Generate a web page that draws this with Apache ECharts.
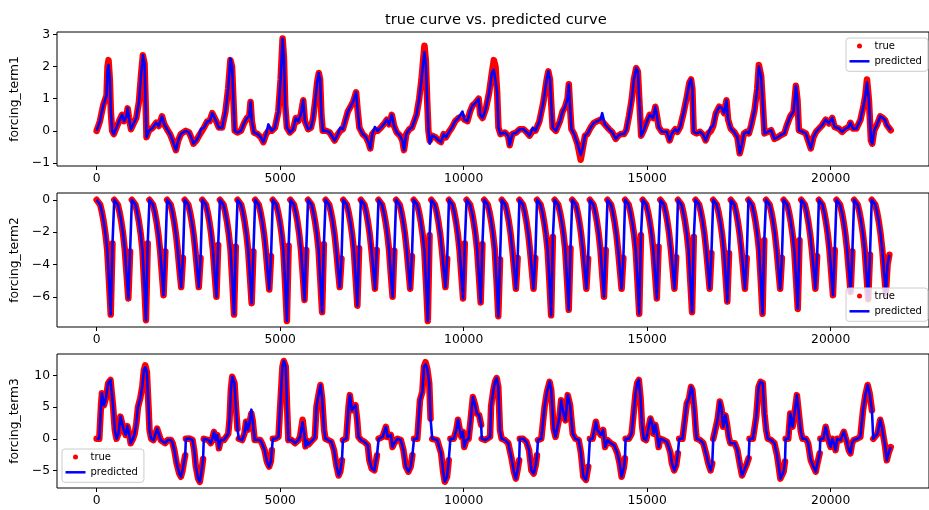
<!DOCTYPE html>
<html>
<head>
<meta charset="utf-8">
<script src="https://cdn.jsdelivr.net/npm/echarts@6/dist/echarts.min.js"></script>
<style>
html, body { margin: 0; padding: 0; background: #fff; }
#chart { width: 929px; height: 510px; }
</style>
</head>
<body>
<div id="chart"></div>
<script>
// ---- text and ticks ----
const titleText = 'true curve vs. predicted curve';
const axisNames = ['forcing_term1', 'forcing_term2', 'forcing_term3'];
const xTicks = [0, 5000, 10000, 15000, 20000];
const yTicks1 = [-1, 0, 1, 2, 3];
const yTicks2 = [-6, -4, -2, 0];
const yTicks3 = [-5, 0, 5, 10];

// ---- forcing_term1: sample index and values ----
const term1X = [
  0,90,180,225,270,297,324,360,387,423,
  468,540,630,693,747,810,846,882,936,990,
  1080,1152,1215,1260,1305,1332,1359,1422,1530,1620,
  1692,1782,1845,1917,1998,2070,2160,2223,2295,2358,
  2430,2520,2592,2637,2718,2790,2844,2925,3015,3078,
  3150,3204,3258,3330,3420,3510,3582,3645,3690,3726,
  3762,3834,3933,4023,4095,4158,4194,4230,4284,4383,
  4473,4545,4617,4680,4770,4860,4950,5013,5067,5103,
  5139,5184,5265,5355,5427,5490,5562,5630,5675,5765,
  5840,5900,5963,6008,6053,6089,6125,6161,6260,6350,
  6395,6485,6575,6638,6710,6845,6917,6953,6989,7025,
  7070,7115,7160,7250,7340,7403,7457,7511,7583,7655,
  7745,7853,7907,7970,8042,8105,8177,8267,8330,8375,
  8438,8519,8591,8645,8717,8789,8852,8897,8933,8969,
  9005,9041,9077,9140,9230,9320,9383,9455,9518,9590,
  9680,9770,9860,9905,9968,10022,10103,10175,10247,10310,
  10355,10409,10454,10517,10607,10697,10769,10823,10868,10913,
  10949,11003,11120,11210,11255,11327,11435,11525,11633,11723,
  11795,11885,11957,12065,12173,12263,12308,12353,12389,12425,
  12515,12623,12695,12767,12830,12866,12902,12938,13010,13100,
  13190,13253,13307,13370,13460,13550,13640,13730,13775,13847,
  13963,14053,14143,14215,14278,14369,14432,14504,14576,14639,
  14702,14747,14801,14837,14909,14981,15071,15116,15161,15224,
  15269,15314,15405,15540,15612,15675,15765,15828,15900,15990,
  16080,16152,16197,16233,16269,16350,16441,16530,16594,16666,
  16738,16801,16873,16963,17044,17098,17161,17206,17278,17369,
  17459,17522,17567,17639,17702,17774,17837,17927,17999,18044,
  18107,18161,18197,18287,18378,18468,18558,18648,18738,18810,
  18900,18990,19053,19098,19134,19233,19324,19387,19459,19531,
  19603,19684,19774,19864,19954,20044,20107,20224,20314,20405,
  20495,20540,20612,20702,20810,20900,20945,20990,21044,21098,
  21134,21188,21260,21350,21423,21485,21530,21638
];
const term1True = [
  0,0.3,0.8,0.95,1.1,2.0,2.2,1.6,0.6,0.0,
  -0.1,0.1,0.35,0.5,0.3,0.45,0.7,0.4,0.05,0.0,
  0.4,0.9,1.8,2.35,2.1,1.0,-0.2,0.0,0.1,0.25,
  0.15,0.45,0.2,0.05,-0.1,-0.3,-0.6,-0.3,-0.1,-0.05,
  0.0,-0.05,-0.25,-0.4,-0.3,-0.15,-0.05,0.1,0.3,0.3,
  0.55,0.6,0.3,0.1,0.1,0.6,1.3,2.2,2.0,1.0,
  0.0,-0.05,0.0,0.25,0.4,0.45,0.9,0.3,-0.05,-0.1,
  -0.2,-0.35,-0.1,0.0,0.0,0.1,0.6,1.6,2.87,2.3,
  0.8,0.1,-0.05,0.05,0.4,0.3,0.5,0.95,0.3,0.05,
  0.1,0.4,1.0,1.5,1.8,1.6,0.5,0.0,0.0,-0.05,
  -0.1,-0.3,-0.1,0.0,0.05,0.6,0.75,0.8,0.9,0.85,
  1.2,0.6,0.1,-0.1,-0.2,-0.35,-0.55,-0.1,0.0,0.0,
  0.1,0.25,0.35,0.2,0.5,0.15,-0.05,-0.15,-0.3,-0.6,
  -0.1,0.05,0.1,0.1,0.5,1.0,1.6,2.2,2.65,2.2,
  1.0,0.0,-0.3,-0.15,-0.2,-0.3,-0.35,-0.1,-0.2,-0.05,
  0.1,0.3,0.4,0.35,0.45,0.35,0.3,0.6,0.8,0.85,
  0.8,1.0,0.5,0.4,0.7,1.2,1.8,2.2,2.0,1.2,
  0.1,-0.1,-0.05,-0.15,-0.45,-0.1,-0.05,0.05,0.05,-0.05,
  -0.15,0.0,0.0,0.3,0.9,1.6,1.85,1.6,0.8,0.1,
  0.0,0.3,0.6,0.75,1.0,1.45,0.7,0.05,-0.1,-0.4,
  -0.9,-0.5,-0.15,-0.1,0.1,0.25,0.3,0.35,0.4,0.2,
  0.05,-0.05,-0.25,-0.15,-0.1,-0.1,0.02,0.45,0.95,1.6,
  1.95,1.85,0.65,-0.15,0.02,0.25,0.5,0.55,0.4,0.75,
  0.45,0.12,-0.03,-0.03,-0.3,-0.08,0.05,-0.03,0.12,0.55,
  1.05,1.5,1.6,1.3,-0.03,-0.08,-0.03,-0.13,-0.3,-0.08,
  0.0,0.15,0.55,0.75,0.7,0.55,0.95,0.35,0.07,-0.03,
  -0.2,-0.7,-0.5,-0.08,-0.03,-0.08,0.18,0.65,1.3,2.05,
  1.7,0.65,-0.08,-0.03,0.02,-0.25,-0.2,-0.13,-0.08,0.18,
  0.45,0.6,1.4,0.95,0.02,-0.03,-0.08,-0.3,-0.55,-0.2,
  -0.03,0.07,0.18,0.35,0.23,0.4,0.12,0.07,-0.03,0.07,
  0.12,0.25,0.07,0.07,0.33,0.8,1.1,1.6,0.95,-0.3,
  -0.4,0.02,0.18,0.45,0.4,0.33,0.18,0.02
];
const term1Pred = [
  0,0.3,0.8,0.95,1.1,1.9,2.05,1.6,0.6,0.0,
  -0.1,0.1,0.35,0.5,0.3,0.45,0.7,0.4,0.05,0.0,
  0.4,0.9,1.8,2.35,2.1,1.0,-0.2,0.0,0.1,0.25,
  0.15,0.45,0.2,0.05,-0.1,-0.3,-0.6,-0.3,-0.1,-0.05,
  0.0,-0.05,-0.25,-0.4,-0.3,-0.15,0.05,0.1,0.3,0.3,
  0.55,0.6,0.3,0.1,0.1,0.6,1.3,2.25,2.0,1.0,
  0.0,-0.05,0.0,0.25,0.4,0.45,0.9,0.3,-0.05,-0.1,
  -0.2,-0.35,-0.1,0.2,0.0,0.1,0.6,1.6,2.87,2.3,
  0.8,0.1,-0.05,0.05,0.4,0.3,0.5,0.95,0.3,0.05,
  0.1,0.4,1.0,1.5,1.8,1.6,0.5,0.0,0.0,-0.05,
  -0.1,-0.3,-0.1,0.1,0.05,0.6,0.75,0.8,0.9,0.85,
  1.2,0.6,0.1,-0.1,-0.2,-0.35,-0.55,-0.1,0.12,0.0,
  0.1,0.25,0.35,0.2,0.5,0.15,-0.05,-0.15,-0.3,-0.6,
  -0.1,0.05,0.1,0.1,0.5,1.0,1.6,2.1,2.45,2.1,
  1.0,0.0,-0.4,-0.15,-0.2,-0.3,-0.35,-0.1,-0.2,-0.05,
  0.1,0.3,0.4,0.35,0.6,0.35,0.3,0.6,0.8,0.85,
  0.8,1.0,0.5,0.4,0.7,1.2,1.8,1.9,1.85,1.2,
  0.1,-0.1,-0.05,-0.15,-0.45,-0.1,-0.05,0.05,0.05,-0.05,
  -0.15,0.1,0.0,0.3,0.9,1.6,1.85,1.6,0.8,0.1,
  0.0,0.3,0.6,0.75,1.0,1.45,0.7,0.05,-0.1,-0.4,
  -0.75,-0.5,-0.15,-0.1,0.1,0.25,0.3,0.35,0.55,0.2,
  0.05,-0.05,-0.25,-0.15,-0.1,-0.1,0.02,0.45,0.95,1.6,
  1.95,1.85,0.65,-0.15,0.02,0.25,0.5,0.55,0.4,0.75,
  0.45,0.12,-0.03,-0.03,-0.3,-0.08,0.05,-0.03,0.12,0.55,
  1.05,1.5,1.6,1.3,-0.03,-0.08,-0.03,-0.13,-0.3,-0.08,
  0.1,0.15,0.55,0.75,0.7,0.55,0.95,0.35,0.07,-0.03,
  -0.2,-0.7,-0.5,-0.08,-0.03,-0.08,0.18,0.65,1.3,2.0,
  1.7,0.65,-0.08,-0.03,0.02,-0.25,-0.2,-0.13,-0.08,0.18,
  0.45,0.6,1.4,0.95,0.02,-0.03,-0.08,-0.3,-0.55,-0.2,
  -0.03,0.07,0.18,0.35,0.23,0.4,0.12,0.07,-0.03,0.07,
  0.12,0.25,0.07,0.07,0.33,0.8,1.1,1.5,0.95,-0.3,
  -0.4,0.02,0.18,0.45,0.4,0.33,0.18,0.02
];
const term1Gaps = [];

// ---- forcing_term2: one row per cycle, sampled every term2Step indices ----
const term2Step = 48;
const term2Cycles = [
  [0,-0.05,-0.3,-0.75,-1.35,-2.1,-3.1,-5.0,-7.1,-2.7],
  [0,-0.05,-0.3,-0.75,-1.35,-2.1,-3.1,-4.6,-6.1,-3.2],
  [0,-0.05,-0.3,-0.75,-1.35,-2.1,-3.1,-5.2,-7.45,-2.7],
  [0,-0.05,-0.3,-0.75,-1.35,-2.1,-3.1,-4.5,-5.9,-3.2],
  [0,-0.05,-0.3,-0.75,-1.35,-2.1,-3.1,-4.3,-5.4,-3.6],
  [0,-0.05,-0.3,-0.75,-1.35,-2.1,-3.1,-4.3,-5.4,-3.6],
  [0,-0.05,-0.3,-0.75,-1.35,-2.1,-3.1,-4.6,-6.0,-2.8],
  [0,-0.05,-0.3,-0.75,-1.35,-2.1,-3.1,-5.0,-7.1,-2.9],
  [0,-0.05,-0.3,-0.75,-1.35,-2.1,-3.1,-4.7,-6.4,-3.2],
  [0,-0.05,-0.3,-0.75,-1.35,-2.1,-3.1,-4.4,-5.55,-3.5],
  [0,-0.05,-0.3,-0.75,-1.35,-2.1,-3.1,-5.2,-7.5,-2.85],
  [0,-0.05,-0.3,-0.75,-1.35,-2.1,-3.1,-4.6,-6.2,-3.1],
  [0,-0.05,-0.3,-0.75,-1.35,-2.1,-3.1,-5.0,-6.95,-2.75],
  [0,-0.05,-0.3,-0.75,-1.35,-2.1,-3.1,-4.3,-5.4,-3.65],
  [0,-0.05,-0.3,-0.75,-1.35,-2.1,-3.1,-4.8,-6.55,-3.0],
  [0,-0.05,-0.3,-0.75,-1.35,-2.1,-3.1,-4.3,-5.5,-3.1],
  [0,-0.05,-0.3,-0.75,-1.35,-2.1,-3.1,-4.6,-6.0,-3.15],
  [0,-0.05,-0.3,-0.75,-1.35,-2.1,-3.1,-4.3,-5.5,-3.5],
  [0,-0.05,-0.3,-0.75,-1.35,-2.1,-3.1,-5.2,-7.5,-2.2],
  [0,-0.05,-0.3,-0.75,-1.35,-2.1,-3.1,-4.3,-5.4,-3.65],
  [0,-0.05,-0.3,-0.75,-1.35,-2.1,-3.1,-4.6,-6.1,-2.7],
  [0,-0.05,-0.3,-0.75,-1.35,-2.1,-3.1,-4.7,-6.35,-2.75],
  [0,-0.05,-0.3,-0.75,-1.35,-2.1,-3.1,-5.0,-7.2,-3.7],
  [0,-0.05,-0.3,-0.75,-1.35,-2.1,-3.1,-4.3,-5.5,-3.6],
  [0,-0.05,-0.3,-0.75,-1.35,-2.1,-3.1,-4.3,-5.5,-3.6],
  [0,-0.05,-0.3,-0.75,-1.35,-2.1,-3.1,-5.0,-7.15,-2.3],
  [0,-0.05,-0.3,-0.75,-1.35,-2.1,-3.1,-4.9,-6.8,-3.0],
  [0,-0.05,-0.3,-0.75,-1.35,-2.1,-3.1,-4.3,-5.5,-3.65],
  [0,-0.05,-0.3,-0.75,-1.35,-2.1,-3.1,-4.6,-6.0,-3.1],
  [0,-0.05,-0.3,-0.75,-1.35,-2.1,-3.1,-4.3,-5.5,-3.6],
  [0,-0.05,-0.3,-0.75,-1.35,-2.1,-3.1,-5.0,-7.05,-2.2],
  [0,-0.05,-0.3,-0.75,-1.35,-2.1,-3.1,-4.6,-6.1,-2.9],
  [0,-0.05,-0.3,-0.75,-1.35,-2.1,-3.1,-4.3,-5.5,-3.55],
  [0,-0.05,-0.3,-0.75,-1.35,-2.1,-3.1,-5.0,-6.95,-2.3],
  [0,-0.05,-0.3,-0.75,-1.35,-2.1,-3.1,-4.3,-5.5,-3.3],
  [0,-0.05,-0.3,-0.75,-1.35,-2.1,-3.1,-4.7,-6.3,-3.3],
  [0,-0.05,-0.3,-0.75,-1.35,-2.1,-3.1,-4.3,-5.5,-3.6],
  [0,-0.05,-0.3,-0.75,-1.35,-2.1,-3.1,-5.0,-7.05,-2.5],
  [0,-0.05,-0.3,-0.75,-1.35,-2.1,-3.1,-4.3,-5.5,-3.6],
  [0,-0.05,-0.3,-0.75,-1.35,-2.1,-3.1,-4.9,-6.75,-2.5],
  [0,-0.05,-0.3,-0.75,-1.35,-2.1,-3.1,-4.3,-5.5,-3.5],
  [0,-0.05,-0.3,-0.75,-1.35,-2.1,-3.1,-4.5,-5.9,-3.1],
  [0,-0.05,-0.3,-0.75,-1.35,-2.1,-3.1,-4.4,-5.7,-3.2],
  [0,-0.05,-0.3,-0.75,-1.35,-2.1,-3.1,-4.6,-6.15,-3.4],
  [0,-0.05,-0.3,-0.75,-1.35,-2.1,-3.1,-4.5,-5.8,-4.0,-3.4]
];

// ---- forcing_term3: sample index and values ----
const term3X = [
  0,72,117,144,198,252,315,378,414,450,
  495,541,595,649,694,739,793,838,901,928,
  991,1036,1081,1126,1189,1243,1288,1324,1369,1414,
  1441,1486,1550,1604,1649,1694,1748,1802,1865,1937,
  2027,2072,2117,2180,2252,2297,2342,2387,2414,2432,
  2523,2613,2658,2703,2766,2811,2856,2901,2919,2973,
  3045,3108,3153,3198,3243,3288,3333,3378,3468,3513,
  3586,3621,3657,3694,3721,3757,3802,3838,3874,3964,
  4027,4072,4117,4162,4216,4252,4306,4369,4459,4504,
  4576,4639,4702,4747,4774,4801,4865,4955,5000,5063,
  5099,5153,5189,5225,5315,5406,5496,5541,5613,5658,
  5690,5730,5770,5850,5945,5990,6054,6099,6144,6198,
  6234,6306,6396,6468,6531,6594,6639,6684,6711,6801,
  6864,6900,6954,6999,7054,7099,7135,7207,7297,7387,
  7432,7495,7567,7639,7684,7792,7882,7927,8018,8063,
  8108,8198,8288,8360,8423,8495,8558,8603,8648,8738,
  8810,8874,8918,8963,9008,9063,9099,9144,9279,9387,
  9441,9486,9549,9594,9639,9729,9801,9846,9891,9936,
  9981,10017,10072,10135,10180,10252,10315,10360,10423,10477,
  10495,10585,10720,10747,10810,10855,10900,10945,10990,11035,
  11125,11216,11306,11369,11423,11468,11513,11531,11621,11711,
  11783,11846,11909,11963,11999,12026,12116,12206,12270,12342,
  12387,12450,12504,12612,12657,12702,12774,12837,12900,12972,
  13045,13135,13198,13261,13333,13396,13441,13513,13603,13648,
  13738,13801,13855,13919,14008,14098,14188,14251,14305,14368,
  14395,14414,14504,14576,14639,14684,14729,14774,14819,14864,
  14909,14972,15044,15089,15134,15179,15224,15269,15314,15360,
  15450,15540,15585,15630,15675,15738,15792,15837,15873,15963,
  16080,16143,16197,16233,16287,16324,16351,16441,16531,16603,
  16666,16729,16774,16801,16846,16918,16981,17026,17071,17134,
  17179,17224,17269,17323,17387,17459,17522,17585,17639,17702,
  17765,17790,17882,17972,18035,18089,18152,18197,18242,18287,
  18378,18468,18540,18585,18630,18666,18720,18756,18774,18846,
  18900,18963,19026,19080,19143,19188,19233,19324,19387,19459,
  19531,19594,19639,19702,19720,19801,19864,19909,19954,19999,
  20044,20089,20134,20179,20269,20360,20405,20450,20495,20540,
  20585,20630,20720,20810,20882,20945,21008,21062,21125,21161,
  21215,21278,21350,21396,21441,21486,21531,21576,21638
];
const term3True = [
  0,0,5.0,7.2,5.3,6.4,8.8,9.3,9.3,5.0,
  1.4,0.0,0.8,3.5,3.7,1.4,0.6,2.0,0.3,-0.7,
  0.0,0.8,2.4,5.0,6.4,8.2,10.9,11.6,10.6,5.0,
  1.4,0.0,-0.2,0.0,1.6,1.4,-0.2,-0.2,-0.7,-0.2,
  -0.2,-0.7,-1.8,-3.9,-5.5,-6.0,-5.0,-3.4,-2.6,0.0,
  0.05,-0.2,-1.8,-4.4,-6.3,-6.8,-5.2,-3.2,0.0,0.0,
  -0.2,-0.7,0.05,1.1,-0.2,0.6,-1.5,-0.2,-0.2,-0.2,
  0.8,3.0,7.7,9.8,10.1,8.8,4.5,1.6,0.0,-0.2,
  0.8,2.7,1.4,2.4,4.0,2.9,-0.2,-0.2,-0.2,-0.7,
  -1.8,-3.6,-4.4,-3.6,-1.8,0.0,0.0,0.3,5.0,11.4,
  12.3,11.4,5.0,-0.2,-0.2,-0.7,-0.2,0.3,3.0,0.8,
  -1.2,-0.3,-0.9,-0.4,0.2,5.1,7.2,8.5,6.4,1.4,
  0.0,-0.2,-0.5,-1.8,-4.2,-5.8,-5.2,-3.4,-0.2,0.0,
  5.1,6.9,4.5,4.2,5.3,3.0,0.3,-0.2,-0.5,-1.0,
  -3.4,-4.7,-5.0,-2.6,0.0,0.3,1.9,0.3,0.6,-1.3,
  -0.7,0.0,-0.2,-1.8,-4.4,-5.2,-4.4,-2.6,0.0,0.0,
  6.1,7.4,11.4,12.1,11.1,8.8,3.2,0.0,-0.2,-2.3,
  -5.2,-6.8,-6.0,-3.4,0.0,0.0,1.4,3.0,1.6,0.3,
  1.1,-1.3,-0.2,0.0,2.4,6.6,5.3,4.0,3.7,2.2,
  0.0,-0.2,0.3,5.1,7.7,9.0,9.6,8.2,1.4,0.0,
  -0.2,-0.7,-3.1,-5.2,-6.3,-5.0,-3.4,0.0,0.0,-0.5,
  -1.8,-5.0,-5.5,-4.2,-2.6,-0.2,0.0,5.1,7.4,9.0,
  7.7,1.6,0.3,3.5,6.1,4.5,2.9,6.9,5.3,0.8,
  0.0,-0.2,-2.3,-6.0,-6.5,-4.4,0.0,0.0,2.7,1.4,
  0.6,1.4,-1.3,-0.2,-0.7,-1.0,-2.3,-3.9,-6.0,-4.5,
  -3.1,0.0,0.0,0.8,4.5,7.2,8.8,9.3,6.6,1.9,
  0.0,-0.2,1.9,3.2,2.4,0.8,2.2,0.8,-1.3,0.0,
  -0.2,-0.5,-0.2,-2.1,-3.9,-5.0,-4.2,-2.3,0.0,0.0,
  5.6,6.4,8.2,7.7,4.5,1.4,0.0,-0.2,-0.7,-2.3,
  -3.9,-5.0,-3.9,0.0,0.0,3.0,5.9,4.8,1.9,3.7,
  2.2,0.3,-0.7,-0.5,-0.7,-1.8,-3.9,-5.8,-6.0,-4.2,
  -3.1,0.0,0.0,3.5,8.2,9.0,8.8,4.0,1.4,0.0,
  -0.2,-0.7,-2.6,-4.4,-6.3,-6.5,-5.2,-3.6,0.0,0.0,
  4.0,1.9,4.5,6.9,3.5,1.1,0.0,0.0,-0.7,-3.4,
  -4.4,-5.2,-3.9,-2.3,0.0,0.0,1.9,2.1,-0.5,-1.3,
  0.0,-0.7,-1.8,0.0,-0.2,1.1,1.1,-0.7,-1.8,-2.3,
  -0.7,-0.2,0.0,0.3,4.5,6.9,8.5,7.2,4.5,0.0,
  0.0,0.8,3.0,1.9,0.3,-1.3,-3.4,-2.3,-1.3
];
const term3Pred = [
  0,0,5.0,7.2,5.3,6.4,8.8,9.3,9.3,5.0,
  1.4,0.0,0.8,3.5,3.7,1.4,0.6,2.0,0.3,-0.7,
  0.0,0.8,2.4,5.0,6.4,8.2,10.9,11.3,10.6,5.0,
  1.4,0.0,-0.2,0.0,1.6,1.4,-0.2,-0.2,-0.7,-0.2,
  -0.2,-0.7,-1.8,-3.9,-5.5,-6.0,-5.0,-3.4,-2.6,0.0,
  0.05,-0.2,-1.8,-4.4,-6.3,-6.8,-5.2,-3.2,0.0,0.0,
  -0.2,-0.7,0.05,1.1,-0.2,0.6,-1.5,-0.2,-0.2,-0.2,
  0.8,3.0,7.7,9.8,10.1,8.8,4.5,1.6,0.0,-0.2,
  0.8,2.7,1.4,2.4,4.6,2.9,-0.2,-0.2,-0.2,-0.7,
  -1.8,-3.6,-4.4,-3.6,-1.8,0.0,0.0,0.3,5.0,11.4,
  12.3,11.4,5.0,-0.2,-0.2,-0.7,-0.2,0.3,2.6,0.8,
  -1.2,-0.3,-0.9,-0.4,0.2,5.1,7.2,8.5,6.4,1.4,
  0.0,-0.2,-0.5,-1.8,-4.2,-5.8,-5.2,-3.4,-0.2,0.0,
  5.1,6.9,4.5,4.2,5.3,3.0,0.3,-0.2,-0.5,-1.0,
  -3.4,-4.7,-5.0,-2.6,0.0,0.3,1.9,0.3,0.6,-1.3,
  -0.7,0.0,-0.2,-1.8,-4.4,-5.2,-4.4,-2.6,0.0,0.0,
  6.1,7.4,11.4,11.8,11.1,8.8,3.2,0.0,-0.2,-2.3,
  -5.2,-6.8,-6.0,-3.4,0.0,0.0,1.4,3.0,1.6,0.3,
  1.1,-1.3,-0.2,0.0,2.4,6.6,5.3,4.0,3.7,2.2,
  0.0,-0.2,0.3,5.1,7.7,9.0,9.6,8.2,1.4,0.0,
  -0.2,-0.7,-3.1,-5.2,-6.3,-5.0,-3.4,0.0,0.0,-0.5,
  -1.8,-5.0,-5.5,-4.2,-2.6,-0.2,0.0,5.1,7.4,9.0,
  7.7,1.6,0.3,3.5,6.1,4.5,2.9,6.9,5.3,0.8,
  0.0,-0.2,-2.3,-6.0,-6.5,-4.4,0.0,0.0,2.7,1.4,
  0.6,1.4,-1.3,-0.2,-0.7,-1.0,-2.3,-3.9,-6.0,-4.5,
  -3.1,0.0,0.0,0.8,4.5,7.2,8.8,9.3,6.6,1.9,
  0.0,-0.2,1.9,3.2,2.4,0.8,2.2,0.8,-1.3,0.0,
  -0.2,-0.5,-0.2,-2.1,-3.9,-5.0,-4.2,-2.3,0.0,0.0,
  5.6,6.4,8.2,7.7,4.5,1.4,0.0,-0.2,-0.7,-2.3,
  -3.9,-5.0,-3.9,0.0,0.0,3.0,5.9,4.8,1.9,3.7,
  2.2,0.3,-0.7,-0.5,-0.7,-1.8,-3.9,-5.8,-6.0,-4.2,
  -3.1,0.0,0.0,3.5,8.2,9.0,8.8,4.0,1.4,0.0,
  -0.2,-0.7,-2.6,-4.4,-6.3,-6.5,-5.2,-3.6,0.0,0.0,
  4.0,1.9,4.5,6.9,3.5,1.1,0.0,0.0,-0.7,-3.4,
  -4.4,-5.2,-3.9,-2.3,0.0,0.0,1.9,2.1,-0.5,-1.3,
  0.0,-0.7,-1.8,0.0,-0.2,1.1,1.1,-0.7,-1.8,-2.3,
  -0.7,-0.2,0.0,0.3,4.5,6.9,8.5,7.2,4.5,0.0,
  0.0,0.8,3.0,1.9,0.3,-1.3,-3.4,-2.3,-1.3
];
// indices after which the true samples jump (no connecting stroke)
const term3Gaps = [2414,2901,3838,4774,6684,7639,8603,9099,9594,10477,11513,11999,13396,14395,15837,16774,17765,18756,19702,21125];

// ---- helpers that turn the tables into [x, y] series data ----
function toPairs(xs, ys) {
  return xs.map((x, i) => [x, ys[i]]);
}
function toPairsWithGaps(xs, ys, gaps) {
  const out = [];
  xs.forEach((x, i) => {
    out.push([x, ys[i]]);
    if (gaps.indexOf(x) >= 0 && i < xs.length - 1) out.push([(x + xs[i + 1]) / 2, '-']);
  });
  return out;
}
function cyclesToPairs(cycles, step, breakBetween) {
  const out = [];
  let idx = 0;
  cycles.forEach((cyc, k) => {
    cyc.forEach(v => { out.push([idx * step, v]); idx++; });
    if (breakBetween && k < cycles.length - 1) out.push([(idx - 0.5) * step, '-']);
  });
  return out;
}

const seriesData = [
  [toPairsWithGaps(term1X, term1True, term1Gaps), toPairs(term1X, term1Pred)],
  [cyclesToPairs(term2Cycles, term2Step, true), cyclesToPairs(term2Cycles, term2Step, false)],
  [toPairsWithGaps(term3X, term3True, term3Gaps), toPairs(term3X, term3Pred)]
];

// ---- layout ----
const fontFamily = 'DejaVu Sans';
const gridBoxes = [[32, 134], [193, 134], [354, 134]];
const yRanges = [[-1.094, 3.075], [-7.87, 0.42], [-7.78, 13.4]];
const yTickSets = [yTicks1, yTicks2, yTicks3];
const legendSpots = [[846, 38], [846, 288], [62, 449]];
const RED = '#ff0000';
const BLUE = '#0000ff';

const fmt = v => (v < 0 ? '\u2212' + Math.abs(v) : String(v));

const series = [];
seriesData.forEach(([trueData, predData], i) => {
  series.push({
    name: 'true', type: 'line', xAxisIndex: i, yAxisIndex: i,
    data: trueData, symbol: 'none', showSymbol: false, silent: true,
    itemStyle: { color: RED },
    lineStyle: { color: RED, width: 6.5, cap: 'round', join: 'round' },
    z: 2
  });
  series.push({
    name: 'predicted', type: 'line', xAxisIndex: i, yAxisIndex: i,
    data: predData, symbol: 'none', showSymbol: false, silent: true,
    itemStyle: { color: BLUE },
    lineStyle: { color: BLUE, width: 2.6, join: 'round' },
    z: 3
  });
});

const tickStyle = { show: true, inside: false, length: 4, lineStyle: { color: '#000', width: 1 } };

const option = {
  animation: false,
  backgroundColor: '#ffffff',
  title: {
    text: titleText, left: 385, top: 13, padding: 0,
    textStyle: { fontFamily, fontSize: 14.7, fontWeight: 'normal', color: '#000' }
  },
  grid: gridBoxes.map(([top, height]) => ({
    left: 57, top, width: 880, height,
    show: true, borderColor: '#000', borderWidth: 1, backgroundColor: 'transparent'
  })),
  xAxis: gridBoxes.map((_, i) => ({
    type: 'value', gridIndex: i, min: -1080, max: 22680, position: 'bottom',
    axisLine: { show: false, onZero: false },
    axisTick: Object.assign({ customValues: xTicks }, tickStyle),
    axisLabel: { customValues: xTicks, formatter: fmt, margin: 7, color: '#000', fontFamily, fontSize: 12.3 },
    splitLine: { show: false }
  })),
  yAxis: gridBoxes.map((_, i) => ({
    type: 'value', gridIndex: i, min: yRanges[i][0], max: yRanges[i][1], position: 'left',
    name: axisNames[i], nameLocation: 'middle', nameGap: 27, nameRotate: 90,
    nameTextStyle: { fontFamily, fontSize: 12.3, color: '#000' },
    axisLine: { show: false, onZero: false },
    axisTick: Object.assign({ customValues: yTickSets[i] }, tickStyle),
    axisLabel: { customValues: yTickSets[i], formatter: fmt, margin: 7, color: '#000', fontFamily, fontSize: 12.3 },
    splitLine: { show: false }
  })),
  legend: legendSpots.map(([left, top]) => ({
    orient: 'vertical', left, top,
    data: [
      { name: 'true', icon: 'circle' },
      { name: 'predicted', icon: 'path://M0,0L20,0L20,2.5L0,2.5Z' }
    ],
    selectedMode: false,
    itemWidth: 20, itemHeight: 5, itemGap: 3.3, itemTextGap: 8,
    padding: [2, 6, 4, 3.5],
    backgroundColor: 'rgba(255,255,255,0.8)',
    borderColor: '#cccccc', borderWidth: 1, borderRadius: 3,
    textStyle: { fontFamily, fontSize: 10, color: '#000', lineHeight: 12 }
  })),
  series
};

const chart = echarts.init(document.getElementById('chart'), null, { renderer: 'canvas', width: 929, height: 510 });
chart.setOption(option);
</script>
</body>
</html>
